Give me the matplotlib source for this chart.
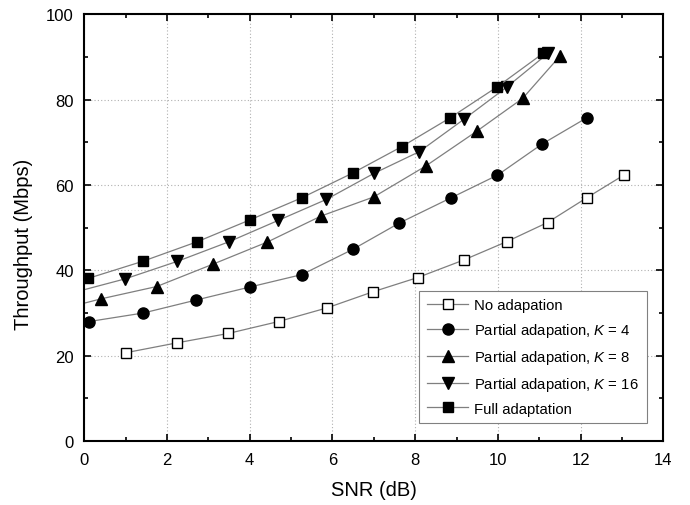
import matplotlib
matplotlib.use("Agg")
import matplotlib.pyplot as plt
from matplotlib.ticker import MultipleLocator

plt.rcParams['font.family'] = ['Liberation Sans', 'DejaVu Sans']
plt.rcParams['mathtext.fontset'] = 'custom'
plt.rcParams['mathtext.rm'] = 'Liberation Sans'
plt.rcParams['mathtext.it'] = 'Liberation Sans:italic'

# Data
snr_none = [1.01, 2.24, 3.48, 4.70, 5.87, 6.99, 8.06, 9.17, 10.21, 11.20, 12.15, 13.06]
thr_none = [20.7, 23.0, 25.2, 28.0, 31.2, 35.0, 38.3, 42.4, 46.7, 51.2, 57.0, 62.4]

snr_k4 = [0.12, 1.43, 2.69, 4.01, 5.26, 6.49, 7.62, 8.87, 9.99, 11.07, 12.16]
thr_k4 = [28.0, 30.0, 33.0, 36.1, 39.0, 44.9, 51.1, 57.0, 62.3, 69.6, 75.8]

snr_k8 = [-0.93, 0.40, 1.75, 3.10, 4.42, 5.72, 7.00, 8.25, 9.49, 10.60, 11.50]
thr_k8 = [30.0, 33.3, 36.2, 41.4, 46.6, 52.7, 57.2, 64.4, 72.6, 80.3, 90.2]

snr_k16 = [-0.26, 0.99, 2.25, 3.50, 4.69, 5.85, 7.00, 8.10, 9.18, 10.21, 11.22]
thr_k16 = [34.8, 38.0, 42.1, 46.7, 51.7, 56.6, 62.7, 67.8, 75.4, 82.9, 90.9]

snr_full = [0.09, 1.41, 2.73, 4.00, 5.26, 6.49, 7.68, 8.84, 9.97, 11.10]
thr_full = [38.1, 42.1, 46.7, 51.8, 57.0, 62.8, 69.0, 75.7, 82.9, 90.9]

labels = ['No adapation',
          'Partial adapation, $K$ = 4',
          'Partial adapation, $K$ = 8',
          'Partial adapation, $K$ = 16',
          'Full adaptation']

fig = plt.figure(figsize=(6.9, 5.06), dpi=100)
ax = fig.add_axes([0.1222, 0.1265, 0.8391, 0.8433])

lc = '#7f7f7f'
ax.plot(snr_none, thr_none, '-s', color=lc, lw=0.9, mfc='white', mec='black', mew=1.0, ms=7, label=labels[0])
ax.plot(snr_k4, thr_k4, '-o', color=lc, lw=0.9, mfc='black', mec='black', ms=8, label=labels[1])
ax.plot(snr_k8, thr_k8, '-^', color=lc, lw=0.9, mfc='black', mec='black', ms=9, label=labels[2])
ax.plot(snr_k16, thr_k16, '-v', color=lc, lw=0.9, mfc='black', mec='black', ms=9, label=labels[3])
ax.plot(snr_full, thr_full, '-s', color=lc, lw=0.9, mfc='black', mec='black', ms=7, label=labels[4])

ax.set_xlim(0, 14)
ax.set_ylim(0, 100)
ax.xaxis.set_major_locator(MultipleLocator(2))
ax.xaxis.set_minor_locator(MultipleLocator(1))
ax.yaxis.set_major_locator(MultipleLocator(20))
ax.yaxis.set_minor_locator(MultipleLocator(10))
ax.tick_params(which='both', direction='in', top=True, right=True, labelsize=12, width=1.2)
ax.tick_params(which='major', length=5)
ax.tick_params(which='minor', length=3)
ax.tick_params(axis='x', pad=8)
ax.tick_params(axis='y', pad=7.5)
for s in ax.spines.values():
    s.set_linewidth(1.5)

ax.grid(True, which='major', linestyle=(0, (1, 2)), color='#b0b0b0', linewidth=0.8)

ax.set_xlabel('SNR (dB)', fontsize=14.5, labelpad=9)
ax.set_ylabel('Throughput (Mbps)', fontsize=14.5)
ax.yaxis.set_label_coords(-0.0886, 0.464)

leg = ax.legend(loc='lower right', bbox_to_anchor=(0.971, 0.042), borderaxespad=0,
                fontsize=10.7, numpoints=1, handlelength=2.8, fancybox=False,
                framealpha=1, edgecolor='#808080', borderpad=0.5, labelspacing=0.6,
                handletextpad=0.4)
leg.get_frame().set_linewidth(0.8)

fig.savefig('out.png', dpi=100)
